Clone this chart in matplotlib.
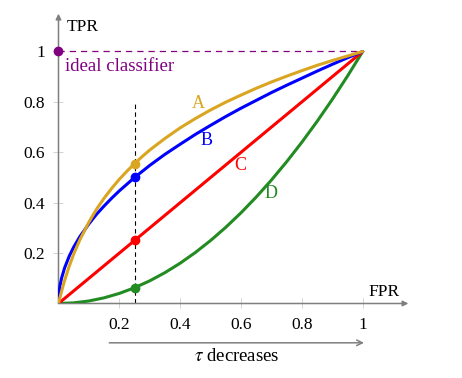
#ROC curves with the ideal classifier point
import matplotlib
matplotlib.use("Agg")
import matplotlib.pyplot as plt
import numpy as np

##### DATA
fprA = [0, 0.005, 0.01, 0.02, 0.035, 0.05, 0.07, 0.1, 0.125, 0.15, 0.175, 0.2, 0.225, 0.25, 0.275, 0.3, 0.35, 0.4, 0.45,
        0.5, 0.55, 0.6, 0.65, 0.7, 0.75, 0.8, 0.85, 0.9, 0.95, 1.0]
tprA = [0, 0.025, 0.048, 0.091, 0.147, 0.196, 0.252, 0.323, 0.374, 0.418, 0.457, 0.493, 0.525, 0.555, 0.583, 0.609, 0.655,
        0.697, 0.734, 0.768, 0.799, 0.827, 0.854, 0.879, 0.902, 0.924, 0.945, 0.964, 0.982, 1.0]

fprB = [0, 0.002, 0.005, 0.01, 0.02, 0.035, 0.05, 0.07, 0.1, 0.125, 0.15, 0.175, 0.2, 0.25, 0.3, 0.35, 0.4, 0.45,
        0.5, 0.55, 0.6, 0.65, 0.7, 0.75, 0.8, 0.85, 0.9, 0.95, 1.0]
tprB = [0, 0.045, 0.071, 0.1, 0.141, 0.187, 0.224, 0.265, 0.316, 0.354, 0.387, 0.418, 0.447, 0.5, 0.548, 0.592, 0.632, 0.671,
        0.707, 0.742, 0.775, 0.806, 0.837, 0.866, 0.894, 0.922, 0.949, 0.975, 1.0]

fprC = [0, 1.0]
tprC = [0, 1.0]

fprD = [0, 0.05, 0.1, 0.15, 0.2, 0.25, 0.3, 0.35, 0.4, 0.45, 0.5, 0.55, 0.6, 0.65, 0.7, 0.75, 0.8, 0.85, 0.9, 0.95, 1.0]
tprD = [0, 0.0025, 0.01, 0.0225, 0.04, 0.0625, 0.09, 0.1225, 0.16, 0.2025, 0.25, 0.3025, 0.36, 0.4225, 0.49, 0.5625,
        0.64, 0.7225, 0.81, 0.9025, 1.0]

# operating points at the chosen threshold
tauFPR = 0.25
tauTPR = {'A': 0.555, 'B': 0.5, 'C': 0.25, 'D': 0.0625}

ticks = [0.2, 0.4, 0.6, 0.8, 1.0]
tickLabels = ['0.2', '0.4', '0.6', '0.8', '1']

colors = {'A': '#DAA520', 'B': '#0000FF', 'C': '#FF0000', 'D': '#228B22'}
purple = '#800080'

plt.rcParams['font.family'] = ['Liberation Serif', 'DejaVu Serif']
plt.rcParams['font.size'] = 12
plt.rcParams['mathtext.fontset'] = 'stix'

fig = plt.figure(figsize=(4.62, 3.78), dpi=100)
ax = fig.add_axes([0.1266, 0.1971, 0.7573, 0.7667])
ax.set_xlim(0, 1.15)
ax.set_ylim(0, 1.15)
for s in ax.spines.values():
    s.set_visible(False)

# axes with arrows
axisColor = '#7f7f7f'
arrow = dict(arrowstyle='-|>', color=axisColor, lw=1.1, mutation_scale=8, shrinkA=0, shrinkB=0)
ax.annotate('', xy=(1.15, 0), xytext=(0, 0), arrowprops=arrow, annotation_clip=False)
ax.annotate('', xy=(0, 1.15), xytext=(0, 0), arrowprops=arrow, annotation_clip=False)

ax.set_xticks(ticks)
ax.set_xticklabels(tickLabels)
ax.set_yticks(ticks)
ax.set_yticklabels(tickLabels)
ax.tick_params(direction='inout', length=7, width=0.6, color='#cccccc', labelsize=12.5)
ax.tick_params(axis='x', pad=6)
ax.tick_params(axis='y', pad=6)

# ideal classifier
ax.plot([0, 1], [1, 1], color=purple, lw=0.9, dashes=(5, 4), zorder=2)
ax.plot([0], [1], 'o', color=purple, ms=6, clip_on=False, zorder=6)
ax.text(0.021, 0.942, 'ideal classifier', color=purple, fontsize=13.5, va='center', ha='left')

# threshold line
ax.plot([tauFPR, tauFPR], [0, 0.8], color='black', lw=0.8, dashes=(4, 3), zorder=2)

# ROC curves
ax.plot(fprD, tprD, color=colors['D'], lw=2.2, zorder=3, solid_capstyle='round')
ax.plot(fprC, tprC, color=colors['C'], lw=2.2, zorder=3, solid_capstyle='round')
ax.plot(fprB, tprB, color=colors['B'], lw=2.2, zorder=4, solid_capstyle='round')
ax.plot(fprA, tprA, color=colors['A'], lw=2.2, zorder=5, solid_capstyle='round')

for k in ['A', 'B', 'C', 'D']:
    ax.plot([tauFPR], [tauTPR[k]], 'o', color=colors[k], ms=6, zorder=6)

labelPos = {'A': (0.46, 0.795), 'B': (0.487, 0.645), 'C': (0.599, 0.546), 'D': (0.697, 0.437)}
for k, (lx, ly) in labelPos.items():
    ax.text(lx, ly, k, color=colors[k], fontsize=13, ha='center', va='center')

# axis labels
ax.text(0.027, 1.098, 'TPR', fontsize=12.5, ha='left', va='center')
ax.text(1.02, 0.046, 'FPR', fontsize=12.5, ha='left', va='center')

# tau arrow below the axis
ax.annotate('', xy=(1.004, -0.156), xytext=(0.167, -0.156),
            arrowprops=dict(arrowstyle='->', color=axisColor, lw=1.1, mutation_scale=10, shrinkA=0, shrinkB=0),
            annotation_clip=False)
ax.text(0.586, -0.212, r'$\tau$ decreases', fontsize=13.5, ha='center', va='center', clip_on=False)

plt.savefig('out.png', dpi=100)
